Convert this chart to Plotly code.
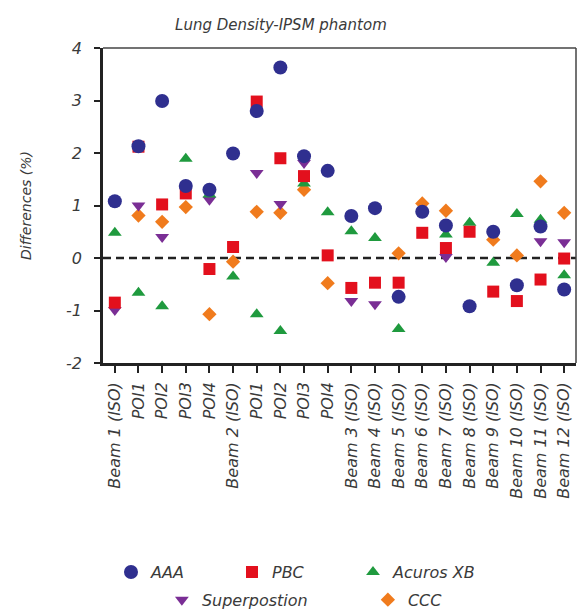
import plotly.graph_objects as go

categories = ["Beam 1 (ISO)", "POI1", "POI2", "POI3", "POI4",
              "Beam 2 (ISO)", "POI1", "POI2", "POI3", "POI4",
              "Beam 3 (ISO)", "Beam 4 (ISO)", "Beam 5 (ISO)", "Beam 6 (ISO)",
              "Beam 7 (ISO)", "Beam 8 (ISO)", "Beam 9 (ISO)", "Beam 10 (ISO)",
              "Beam 11 (ISO)", "Beam 12 (ISO)"]

aaa = [1.08, 2.13, 2.99, 1.37, 1.30, 1.99, 2.80, 3.63, 1.94, 1.66,
       0.80, 0.95, -0.74, 0.88, 0.62, -0.92, 0.50, -0.52, 0.60, -0.60]
pbc = [-0.85, 2.12, 1.02, 1.23, -0.21, 0.21, 2.98, 1.90, 1.56, 0.05,
       -0.57, -0.47, -0.47, 0.48, 0.19, 0.50, -0.64, -0.82, -0.41, -0.01]
acuros = [0.48, -0.66, -0.92, 1.89, 1.21, -0.35, -1.07, -1.39, 1.42, 0.87,
          0.51, 0.38, -1.35, None, 0.45, 0.67, -0.09, 0.84, 0.73, -0.33]
superposition = [-0.99, 1.00, 0.40, None, 1.11, None, 1.62, 1.03, 1.81, None,
                 -0.82, -0.88, None, None, 0.02, None, None, None, 0.32, 0.30]
ccc = [None, 0.81, 0.69, 0.97, -1.07, -0.07, 0.88, 0.86, 1.30, -0.48,
       None, None, 0.09, 1.04, 0.90, None, 0.35, 0.05, 1.46, 0.86]

y_ticks = [4, 3, 2, 1, 0, -1, -2]
y_tick_text = ["4", "3", "2", "1", "0", "-1", "-2"]

xs = list(range(len(categories)))
FONT = "DejaVu Sans"
TXT = "#3a3a3a"

series = [
    ("AAA", aaa, "circle", "#2f2f8f", 14, "legend"),
    ("PBC", pbc, "square", "#e3101d", 12, "legend"),
    ("Acuros XB", acuros, "triangle-up", "#1f9a3e", 12, "legend"),
    ("Superpostion", superposition, "triangle-down", "#7a2e95", 12, "legend2"),
    ("CCC", ccc, "diamond", "#f07b1d", 11, "legend2"),
]
ranks = {"AAA": 1, "PBC": 2, "Acuros XB": 3, "Superpostion": 4, "CCC": 5}

fig = go.Figure()
# draw order: CCC bottom ... AAA top
for name, vals, sym, col, size, leg in reversed(series):
    fig.add_trace(go.Scatter(
        x=xs, y=vals, mode="markers", name=name, legend=leg,
        marker=dict(symbol=sym, color=col, size=size, line=dict(width=0)),
        legendrank=ranks[name],
    ))

fig.update_layout(
    width=577, height=602,
    margin=dict(l=95, r=9, t=40, b=247),
    paper_bgcolor="white", plot_bgcolor="white",
    font=dict(family=FONT, color=TXT, size=15),
    title=dict(text="Lung Density-IPSM phantom", x=0.473, xanchor="center",
               y=0.973, yanchor="middle",
               font=dict(family=FONT, size=15, style="italic", color=TXT)),
    xaxis=dict(range=[-0.5, len(categories) - 0.5], tickmode="array",
               tickvals=xs, ticktext=categories, tickangle=-90,
               showgrid=False, zeroline=False, showline=True, automargin=False,
               linecolor="#222222", linewidth=2.5,
               ticks="outside", ticklen=7, tickwidth=2, tickcolor="#222222",
               ticklabelstandoff=3,
               tickfont=dict(family=FONT, size=16, style="italic", color=TXT)),
    yaxis=dict(range=[-2, 4], tickmode="array", tickvals=y_ticks,
               ticktext=y_tick_text, showgrid=False, zeroline=False,
               showline=True, automargin=False, linecolor="#222222", linewidth=2.5,
               ticks="outside", ticklen=6, tickwidth=2, tickcolor="#222222",
               ticklabelstandoff=9,
               tickfont=dict(family=FONT, size=16, style="italic", color=TXT),
               title=dict(text="Differences (%)", standoff=32,
                          font=dict(family=FONT, size=14, style="italic", color=TXT))),
    legend=dict(orientation="h", xref="container", yref="container",
                x=0.1785, y=0.063, xanchor="left", yanchor="middle",
                entrywidth=76, entrywidthmode="pixels",
                font=dict(family=FONT, size=16, style="italic", color=TXT),
                bgcolor="rgba(0,0,0,0)", itemclick=False),
    legend2=dict(orientation="h", xref="container", yref="container",
                 x=0.2667, y=0.017, xanchor="left", yanchor="middle",
                 entrywidth=161, entrywidthmode="pixels",
                 font=dict(family=FONT, size=16, style="italic", color=TXT),
                 bgcolor="rgba(0,0,0,0)", itemclick=False),
    shapes=[
        dict(type="line", xref="paper", yref="y", x0=0, x1=1, y0=0, y1=0,
             line=dict(color="#222222", width=2.5, dash="8px,5px"), layer="below"),
        dict(type="line", xref="paper", yref="paper", x0=0, x1=1, y0=1, y1=1,
             line=dict(color="#444444", width=1.5)),
        dict(type="line", xref="paper", yref="paper", x0=1, x1=1, y0=0, y1=1,
             line=dict(color="#444444", width=1.5)),
    ],
)

fig.write_html("out.html")
